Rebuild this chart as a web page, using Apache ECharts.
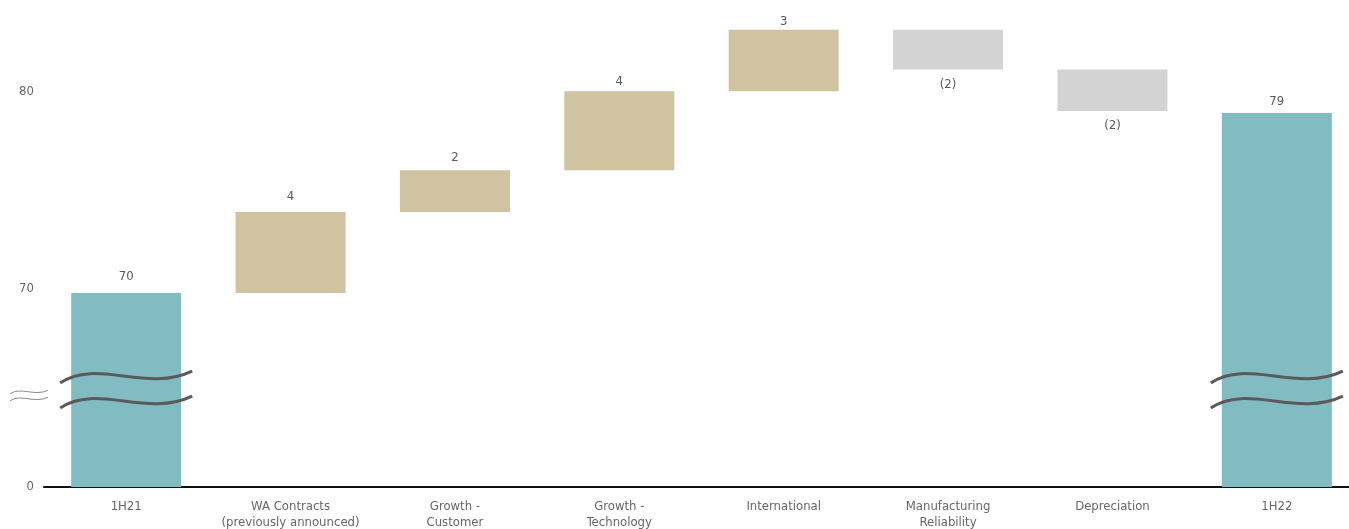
<!DOCTYPE html>
<html>
	<head>
		<meta charset="UTF-8">
		<title>Waterfall 1H21 - 1H22</title>
		<script src="https://cdn.jsdelivr.net/npm/echarts@6/dist/echarts.min.js"></script>
		<style>
			html, body { margin: 0; padding: 0; background: #fff; }
			#chart { width: 1349px; height: 529px; }
		</style>
	</head>
	<body>
		<div id="chart"></div>
		<script>
			// the axis is broken: everything below 60 is cut away, so 60 is shown as "0"
			var categories = ['1H21', 'WA Contracts\n(previously announced)', 'Growth -\nCustomer', 'Growth -\nTechnology',
				'International', 'Manufacturing\nReliability', 'Depreciation', '1H22'];
			var openTotal = 69.8;
			var closeTotal = 78.9;
			var changes = [4.1, 2.1, 4.0, 3.1, -2.0, -2.1];
			var valueLabels = ['70', '4', '2', '4', '3', '(2)', '(2)', '79'];
			var breakFrom = 60;

			var TEAL = '#82bcc3', TAN = '#cfc3a0', GREY = '#d3d3d3';
			var FONT = 'DejaVu Sans Condensed, Liberation Sans Narrow, sans-serif';
			// label gaps as the source drew them (they are not even)
			var labelGap = [10, 9, 6, 3, 2, 9, 8, 5];

			// build the invisible base + visible step for the stack
			var baseData = ['-'];
			var stepData = [{ value: openTotal, itemStyle: { color: TEAL }, label: { distance: labelGap[0] } }];
			var running = openTotal;
			changes.forEach(function (d, i) {
				var next = running + d;
				baseData.push(Math.min(running, next));
				stepData.push({
					value: Math.abs(d),
					itemStyle: { color: d >= 0 ? TAN : GREY },
					label: { position: d >= 0 ? 'top' : 'bottom', distance: labelGap[i + 1] }
				});
				running = next;
			});
			baseData.push('-');
			stepData.push({ value: closeTotal, itemStyle: { color: TEAL }, label: { distance: labelGap[7] } });

			var chart = echarts.init(document.getElementById('chart'), null, { renderer: 'canvas' });
			chart.setOption({
				animation: false,
				textStyle: { fontFamily: FONT },
				grid: { left: 44, width: 1315, top: 12, bottom: 42, outerBoundsMode: 'none', containLabel: false },
				xAxis: {
					type: 'category',
					data: categories,
					axisLine: { lineStyle: { color: '#111', width: 2 } },
					axisTick: { show: false },
					axisLabel: { color: '#666', fontSize: 13, lineHeight: 16, margin: 12, interval: 0, fontFamily: FONT }
				},
				yAxis: {
					type: 'value',
					min: 60, max: 84, interval: 10,
					splitLine: { show: false },
					axisLine: { show: false },
					axisTick: { show: false },
					axisLabel: {
						color: '#666', fontSize: 13, margin: 10, fontFamily: FONT,
						formatter: function (v) {
							if (v === breakFrom) return '0';
							if (v % 10 !== 0) return '';
							return String(v);
						}
					}
				},
				series: [
					{
						type: 'bar', stack: 'w', data: baseData, barWidth: 110,
						itemStyle: { color: 'transparent' }, silent: true
					},
					{
						type: 'bar', stack: 'w', data: stepData, barWidth: 110,
						label: {
							show: true, position: 'top', color: '#595959', fontSize: 13, fontFamily: FONT,
							formatter: function (p) { return valueLabels[p.dataIndex]; }
						}
					}
				]
			});

			// break marks, placed from the axes
			function wave(x, y, half, dy, stroke, width) {
				return {
					type: 'bezierCurve', x: x, y: y, silent: true, z: 20,
					shape: {
						x1: -half, y1: 6 * dy, cpx1: -half * 0.45, cpy1: -19 * dy,
						cpx2: half * 0.3, cpy2: 16 * dy, x2: half, y2: -6 * dy
					},
					style: { fill: null, stroke: stroke, lineWidth: width }
				};
			}
			var gfx = [];
			var p0 = chart.convertToPixel({ gridIndex: 0 }, [0, 65]);
			var p1 = chart.convertToPixel({ gridIndex: 0 }, [1, 65]);
			var step = p1[0] - p0[0];
			[0, categories.length - 1].forEach(function (i) {
				var p = chart.convertToPixel({ gridIndex: 0 }, [i, 65]);
				[-11, 14].forEach(function (off) {
					gfx.push(wave(p[0], p[1] + off, 66, 1, '#5a5a5a', 3));
				});
			});
			var axisX = p0[0] - step / 2;
			[4, 11].forEach(function (off) {
				gfx.push(wave(axisX - 15, p0[1] + off, 19, 0.3, '#8a8a8a', 1));
			});
			chart.setOption({ graphic: gfx });
		</script>
	</body>
</html>
